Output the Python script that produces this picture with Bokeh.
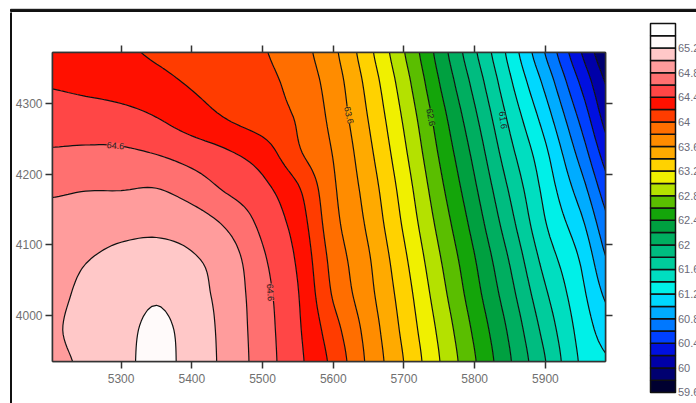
import numpy as np
from bokeh.plotting import figure
from bokeh.models import Range1d, LinearAxis, FixedTicker
from bokeh.layouts import row, column
from bokeh.embed import file_html
from bokeh.resources import INLINE
from bokeh.core.properties import value

# ---------------- data ----------------
x_vals = [5200, 5250, 5300, 5350, 5400, 5450, 5500, 5550, 5600, 5650,
          5700, 5750, 5800, 5850, 5900, 5950, 6000]
y_vals = [3930, 3980, 4030, 4080, 4130, 4180, 4230, 4280, 4330, 4380]

z_3930 = [64.93, 65.04, 65.12, 65.29, 65.10, 64.95, 64.70, 64.45, 64.15, 63.76, 63.40, 63.01, 62.62, 62.22, 61.81, 61.38, 61.20]
z_3980 = [64.96, 65.09, 65.12, 65.26, 65.10, 64.94, 64.69, 64.43, 64.08, 63.72, 63.35, 62.96, 62.56, 62.16, 61.73, 61.33, 61.05]
z_4030 = [64.93, 65.05, 65.08, 65.17, 65.06, 64.93, 64.67, 64.41, 63.98, 63.66, 63.30, 62.89, 62.48, 62.07, 61.63, 61.26, 60.88]
z_4080 = [64.90, 64.99, 65.05, 65.07, 65.02, 64.90, 64.63, 64.37, 63.93, 63.62, 63.24, 62.82, 62.41, 61.98, 61.52, 61.18, 60.70]
z_4130 = [64.86, 64.89, 64.93, 64.95, 64.90, 64.77, 64.55, 64.31, 63.87, 63.56, 63.17, 62.74, 62.32, 61.87, 61.41, 61.05, 60.54]
z_4180 = [64.77, 64.79, 64.79, 64.80, 64.71, 64.57, 64.45, 64.22, 63.83, 63.51, 63.11, 62.66, 62.23, 61.77, 61.33, 60.89, 60.37]
z_4230 = [64.62, 64.63, 64.63, 64.59, 64.51, 64.42, 64.30, 64.03, 63.79, 63.45, 63.04, 62.58, 62.14, 61.66, 61.24, 60.72, 60.18]
z_4280 = [64.50, 64.50, 64.47, 64.40, 64.29, 64.19, 64.09, 63.98, 63.74, 63.39, 62.97, 62.50, 62.04, 61.55, 61.10, 60.55, 60.00]
z_4330 = [64.38, 64.34, 64.30, 64.25, 64.18, 64.12, 64.05, 63.93, 63.70, 63.33, 62.89, 62.40, 61.93, 61.43, 60.94, 60.37, 59.88]
z_4380 = [64.30, 64.27, 64.22, 64.17, 64.12, 64.06, 64.01, 63.88, 63.64, 63.25, 62.80, 62.31, 61.82, 61.32, 60.77, 60.19, 59.72]

levels = [59.6, 59.8, 60.0, 60.2, 60.4, 60.6, 60.8, 61.0, 61.2, 61.4,
          61.6, 61.8, 62.0, 62.2, 62.4, 62.6, 62.8, 63.0, 63.2, 63.4,
          63.6, 63.8, 64.0, 64.2, 64.4, 64.6, 64.8, 65.0, 65.2, 65.4, 65.6]

palette = ["#000030", "#000070", "#0000A8", "#0010E0", "#0040FF",
           "#0078FF", "#00ACFF", "#00D8FF", "#00F0E8", "#00DEC0",
           "#00CC9C", "#00BC80", "#00AE60", "#00A040", "#14A50A",
           "#5ABE00", "#B4E100", "#F0F000", "#FFD200", "#FFAA00",
           "#FF8C00", "#FF6E00", "#FF3C00", "#FF1000", "#FF4646",
           "#FF7070", "#FF9C9C", "#FFC8C8", "#FFFAFA", "#FFFFFF"]

x_ticks = [5300, 5400, 5500, 5600, 5700, 5800, 5900]
y_ticks = [4000, 4100, 4200, 4300]

cbar_label_vals = [59.6, 60.0, 60.4, 60.8, 61.2, 61.6, 62.0, 62.4, 62.8,
                   63.2, 63.6, 64.0, 64.4, 64.8, 65.2]
cbar_labels = ["59.6", "60", "60.4", "60.8", "61.2", "61.6", "62", "62.4",
               "62.8", "63.2", "63.6", "64", "64.4", "64.8", "65.2"]

clabel_text = ["64.6", "64.6", "63.6", "62.6", "61.6"]
clabel_x = [5292, 5511, 5622, 5738, 5840]
clabel_y = [4240, 4033, 4283, 4280, 4276]
clabel_angle = [-0.08, -1.5, -1.35, -1.38, -1.45]
clabel_bg = ["#FF5A5A", "#FF5A5A", "#FF9B00", "#37B205", "#00D5AE"]

# ---------------- smooth rendering grid (Catmull-Rom through the read values) ----------------
z = np.array([z_3930, z_3980, z_4030, z_4080, z_4130, z_4180, z_4230,
              z_4280, z_4330, z_4380], dtype=float)


def cr_upsample(a, factor, axis):
    n = a.shape[axis]
    t = np.linspace(0.0, n - 1.0, (n - 1) * factor + 1)
    i = np.clip(np.floor(t).astype(int), 0, n - 2)
    u = t - i
    i0 = np.clip(i - 1, 0, n - 1)
    i2 = i + 1
    i3 = np.clip(i + 2, 0, n - 1)
    p0 = np.take(a, i0, axis=axis)
    p1 = np.take(a, i, axis=axis)
    p2 = np.take(a, i2, axis=axis)
    p3 = np.take(a, i3, axis=axis)
    shape = [1] * a.ndim
    shape[axis] = -1
    u = u.reshape(shape)
    return 0.5 * (2 * p1 + (-p0 + p2) * u + (2 * p0 - 5 * p1 + 4 * p2 - p3) * u ** 2
                  + (-p0 + 3 * p1 - 3 * p2 + p3) * u ** 3)


F = 8
zf = cr_upsample(cr_upsample(z, F, 1), F, 0)
xf = np.linspace(x_vals[0], x_vals[-1], (len(x_vals) - 1) * F + 1)
yf = np.linspace(y_vals[0], y_vals[-1], (len(y_vals) - 1) * F + 1)

FONT = "Liberation Sans"
AX = "#333333"

# ---------------- main contour figure ----------------
p = figure(width=628, height=391,
           x_range=Range1d(5203, 5985), y_range=Range1d(3935.5, 4371.5),
           min_border_left=38, min_border_right=35,
           min_border_top=40, min_border_bottom=42,
           toolbar_location=None, output_backend="svg")
p.frame_align = False
p.xgrid.visible = False
p.ygrid.visible = False
p.border_fill_color = "white"
p.outline_line_color = AX
p.outline_line_width = 1.5

p.contour(x=xf, y=yf, z=zf, levels=levels, fill_color=palette,
          line_color="#111111", line_width=1.2)

p.text(x=clabel_x, y=clabel_y, text=clabel_text, angle=clabel_angle,
       text_font=value(FONT), text_font_size="9px", text_color="#222222",
       text_align="center", text_baseline="middle",
       background_fill_color=clabel_bg)

p.add_layout(LinearAxis(), "above")
p.add_layout(LinearAxis(), "right")


def style_axis(ax, ticks, show):
    ax.ticker = FixedTicker(ticks=ticks, minor_ticks=[])
    ax.axis_line_color = AX
    ax.axis_line_width = 1.5
    ax.major_tick_line_color = AX
    ax.major_tick_line_width = 1.5
    ax.major_tick_out = 7
    ax.major_tick_in = 0
    ax.minor_tick_line_color = None
    ax.major_label_text_font = FONT
    ax.major_label_text_font_size = "12px"
    ax.major_label_text_color = "#707070"
    if not show:
        ax.major_label_overrides = {t: "" for t in ticks}


for ax in p.below:
    style_axis(ax, x_ticks, True)
    ax.major_label_standoff = 5
for ax in p.above:
    style_axis(ax, x_ticks, False)
for ax in p.left:
    style_axis(ax, y_ticks, True)
    ax.major_label_standoff = 3
for ax in p.right:
    style_axis(ax, y_ticks, False)

# ---------------- colour bar figure ----------------
cb = figure(width=56, height=391, x_range=Range1d(0, 56),
            y_range=Range1d(59.4211, 65.7789), min_border=0,
            toolbar_location=None, output_backend="svg",
            x_axis_location=None, y_axis_location=None)
cb.frame_align = False
cb.grid.visible = False
cb.outline_line_color = None
cb.quad(left=10, right=35, bottom=levels[:-1], top=levels[1:],
        fill_color=palette, line_color="#111111", line_width=1.5)
cb.text(x=37.5, y=cbar_label_vals, text=cbar_labels, text_font=value(FONT),
        text_font_size="11px", text_color="#6a6a78", text_align="left",
        text_baseline="middle")

# ---------------- outer frame lines ----------------
top_strip = figure(width=696, height=12, x_range=Range1d(0, 696), y_range=Range1d(0, 12),
                   min_border=0, toolbar_location=None, output_backend="svg",
                   x_axis_location=None, y_axis_location=None)
top_strip.frame_align = False
top_strip.grid.visible = False
top_strip.outline_line_color = None
top_strip.quad(left=[10], right=[696], bottom=[1], top=[3.2], color="#111111")

left_strip = figure(width=12, height=391, x_range=Range1d(0, 12), y_range=Range1d(0, 391),
                    min_border=0, toolbar_location=None, output_backend="svg",
                    x_axis_location=None, y_axis_location=None)
left_strip.frame_align = False
left_strip.grid.visible = False
left_strip.outline_line_color = None
left_strip.quad(left=[10], right=[12.5], bottom=[0], top=[391], color="#111111")

layout = column(top_strip, row(left_strip, p, cb))

open("out.html", "w").write(file_html(layout, INLINE))
